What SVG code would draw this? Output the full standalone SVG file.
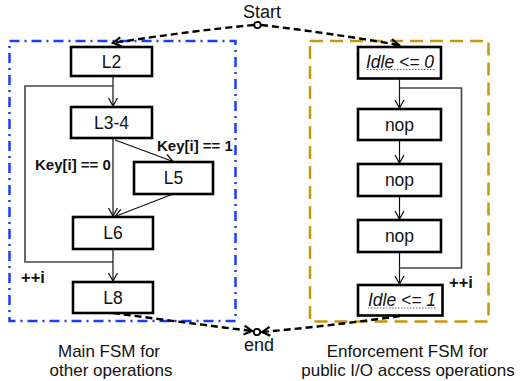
<svg xmlns="http://www.w3.org/2000/svg" width="522" height="381" viewBox="0 0 522 381">
<style>
.box{fill:#fff;stroke:#000;stroke-width:2.6}
.t{font-family:"Liberation Sans",Arial,sans-serif;font-size:17.5px;fill:#111;text-anchor:middle}
.lg{font-size:18px}
.cap{font-size:17px}
.it{font-style:italic}
.b{font-family:"Liberation Sans",Arial,sans-serif;font-weight:bold;font-size:15px;fill:#111}
.pp{font-size:16.5px}
.c{fill:none;stroke:#111;stroke-width:1.2}
.loop{fill:none;stroke:#444;stroke-width:1.6}
.d{fill:none;stroke:#000;stroke-width:2.4;stroke-dasharray:7 4}
.u{stroke:#666;stroke-width:1.2;stroke-dasharray:1.5 1.5}
</style>
<defs>
<marker id="a" markerWidth="12" markerHeight="12" refX="10" refY="6" orient="auto" markerUnits="userSpaceOnUse">
<polyline points="2,1.5 10,6 2,10.5" fill="none" stroke="#111" stroke-width="1.3"/>
</marker>
<marker id="ad" markerWidth="14" markerHeight="14" refX="11" refY="7" orient="auto" markerUnits="userSpaceOnUse">
<polyline points="3,2.5 11,7 3,11.5" fill="none" stroke="#000" stroke-width="2.2"/>
</marker>
</defs>
<g id="main-fsm-frame">
<rect x="9.5" y="41" width="226" height="280" fill="none" stroke="#1a3cff" stroke-width="2.5" stroke-dasharray="10 5 2 5"/>
<text class="t cap" x="109" y="357">Main FSM for</text>
<text class="t cap" x="111" y="376">other operations</text>
</g>
<g id="enforcement-fsm-frame">
<rect x="310" y="41" width="178.5" height="280.5" fill="none" stroke="#c8960c" stroke-width="2.5" stroke-dasharray="13 7"/>
<text class="t cap" x="407.5" y="357">Enforcement FSM for</text>
<text class="t cap" x="408" y="376">public I/O access operations</text>
</g>
<g id="connectors">
<line class="c" x1="113" y1="76" x2="113" y2="106" marker-end="url(#a)"/>
<polyline class="loop" points="113,262 25,262 25,86 113,86"/>
<line class="c" x1="113" y1="138" x2="113" y2="216" marker-end="url(#a)"/>
<line class="c" x1="115" y1="140" x2="173" y2="161.5" marker-end="url(#a)"/>
<line class="c" x1="173" y1="194" x2="115" y2="216.5" marker-end="url(#a)"/>
<line class="c" x1="113" y1="249" x2="113" y2="281" marker-end="url(#a)"/>
<line class="c" x1="399.5" y1="78" x2="399.5" y2="108" marker-end="url(#a)"/>
<line class="c" x1="399.5" y1="140" x2="399.5" y2="163" marker-end="url(#a)"/>
<line class="c" x1="399.5" y1="196" x2="399.5" y2="219" marker-end="url(#a)"/>
<line class="c" x1="399.5" y1="252" x2="399.5" y2="284" marker-end="url(#a)"/>
<polyline class="loop" points="399.5,88 461.5,88 461.5,268 399.5,268"/>
<path class="d" d="M254,25 Q190,31 113,43" marker-end="url(#ad)"/>
<path class="d" d="M261,25 Q330,33 399,45" marker-end="url(#ad)"/>
<path class="d" d="M113,313 Q180,322 252,331" marker-end="url(#ad)"/>
<path class="d" d="M400,316 Q330,326 262,332" marker-end="url(#ad)"/>
<circle cx="257.5" cy="25" r="3.2" fill="#fff" stroke="#000" stroke-width="1.8"/>
<circle cx="257" cy="332" r="3.2" fill="#fff" stroke="#000" stroke-width="1.8"/>
<text class="b" x="35" y="170">Key[i] == 0</text>
<text class="b" x="157" y="151">Key[i] == 1</text>
<text class="b pp" x="21" y="283">++i</text>
<text class="b pp" x="449" y="288">++i</text>
</g>
<g id="start"><text class="t lg" x="262" y="18">Start</text></g>
<g id="end"><text class="t lg" x="259" y="351">end</text></g>
<g id="L2"><rect class="box" x="71" y="47" width="81" height="29"/><text class="t" x="111.5" y="67.5">L2</text></g>
<g id="L3-4"><rect class="box" x="71" y="107" width="81" height="31"/><text class="t" x="111.5" y="128.5">L3-4</text></g>
<g id="L5"><rect class="box" x="134" y="162" width="79" height="32"/><text class="t" x="173.5" y="184">L5</text></g>
<g id="L6"><rect class="box" x="73" y="217" width="80" height="32"/><text class="t" x="113" y="239">L6</text></g>
<g id="L8"><rect class="box" x="73" y="282" width="80" height="31"/><text class="t" x="113" y="303.5">L8</text></g>
<g id="idle0"><rect class="box" x="358" y="47" width="83" height="31.5"/><text class="t it" x="400" y="67.5">Idle &lt;= 0</text><line class="u" x1="367" y1="69.5" x2="435" y2="69.5"/></g>
<g id="nop1"><rect class="box" x="358" y="109" width="83" height="31"/><text class="t" x="399.5" y="130.5">nop</text></g>
<g id="nop2"><rect class="box" x="358" y="164" width="83" height="32"/><text class="t" x="399.5" y="185.5">nop</text></g>
<g id="nop3"><rect class="box" x="358" y="220" width="83" height="32"/><text class="t" x="399.5" y="241.5">nop</text></g>
<g id="idle1"><rect class="box" x="358" y="285" width="84.5" height="30.5"/><text class="t it" x="402" y="305.5">Idle &lt;= 1</text><line class="u" x1="368" y1="308" x2="437" y2="308"/></g>
</svg>
